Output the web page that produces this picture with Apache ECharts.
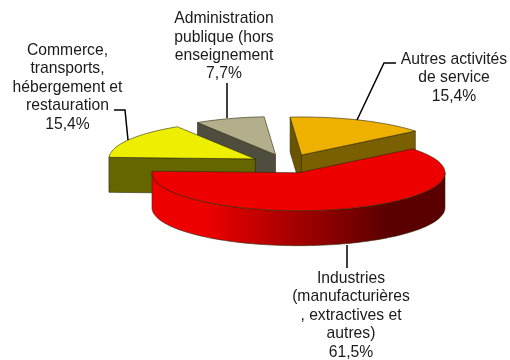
<!DOCTYPE html>
<html>
<head>
<meta charset="utf-8">
<style>
  html, body { margin: 0; background: #fff; }
  #chart { width: 510px; height: 360px; }
</style>
</head>
<body>
<div id="chart"></div>
<script src="https://cdn.jsdelivr.net/npm/echarts@6/dist/echarts.min.js"></script>
<script>
// data, counterclockwise from the start angle
const categories = [
  'Autres activités\nde service',
  'Administration\npublique (hors\nenseignement',
  'Commerce,\ntransports,\nhébergement et\nrestauration',
  'Industries\n(manufacturières\n, extractives et\nautres)'
]
const shares = [15.4, 7.7, 15.4, 61.5]

// look of the slices
const topColors = ['#eeb100', '#b3af8c', '#eeee00', '#ee0000']
const startWallColors = ['#7a6000', '#4f4d3d', '#666600', '#ee0000']
const endWallColors = ['#6b5500', '#4f4d3d', '#666600', '#ee0000']
const edgeColor = 'rgba(45, 40, 10, 0.85)'
const redWall = new echarts.graphic.LinearGradient(0, 0, 1, 0, [
  { offset: 0, color: '#ee0000' },
  { offset: 0.18, color: '#ee0000' },
  { offset: 0.81, color: '#5a0000' },
  { offset: 1, color: '#5a0000' }
])

const START_ANGLE = 39
const EXPLODE = 0.25
const DEPTH = 0.92 // wall height, in units of the y axis

// label centres and leader lines, in pixels
const labelPos = [[454, 78], [224, 46.5], [67.5, 87.5], [351, 315.5]]
const leaders = [
  [[396, 63], [384, 63], [357, 120]],
  [[227, 83], [227, 118]],
  [[114, 110], [125, 110], [128, 140]],
  [[347, 245], [347, 268]]
]

const textFont = '15.7px "Liberation Sans", Arial, sans-serif'

function rad(deg) {
  return (deg * Math.PI) / 180
}

function sliceAngles(index) {
  const total = shares.reduce((s, v) => s + v, 0)
  let from = START_ANGLE
  for (let i = 0; i < index; i++) from += (shares[i] / total) * 360
  return [from, from + (shares[index] / total) * 360]
}

function renderSlice(params, api) {
  const i = params.dataIndex
  const [a0, a1] = sliceAngles(i)
  const mid = rad((a0 + a1) / 2)
  const ox = EXPLODE * Math.cos(mid)
  const oy = EXPLODE * Math.sin(mid)

  const at = (deg, r, drop) =>
    api.coord([ox + r * Math.cos(rad(deg)), oy + r * Math.sin(rad(deg)) - (drop || 0)])

  const arc = (from, to, drop) => {
    const pts = []
    const steps = Math.max(2, Math.ceil(Math.abs(to - from) / 2))
    for (let s = 0; s <= steps; s++) pts.push(at(from + ((to - from) * s) / steps, 1, drop))
    return pts
  }

  const children = []
  const face = (points, fill) => {
    children.push({
      type: 'polygon',
      shape: { points },
      style: { fill, stroke: edgeColor, lineWidth: 0.7, lineJoin: 'round' }
    })
  }

  // radial walls, only the ones that look at the viewer
  if (-Math.cos(rad(a0)) < 0) {
    face([at(a0, 0), at(a0, 1), at(a0, 1, DEPTH), at(a0, 0, DEPTH)], startWallColors[i])
  }
  if (Math.cos(rad(a1)) < 0) {
    face([at(a1, 0), at(a1, 1), at(a1, 1, DEPTH), at(a1, 0, DEPTH)], endWallColors[i])
  }

  // rim wall, front half of the ellipse only
  const from = Math.max(a0, 180)
  const to = Math.min(a1, 360)
  if (to > from) {
    face(arc(from, to, 0).concat(arc(to, from, DEPTH)), redWall)
  }

  face([at(a0, 0)].concat(arc(a0, a1, 0)), topColors[i])

  return { type: 'group', children }
}

function renderLabel(params, api) {
  const i = params.dataIndex
  const pct = api.value(0).toFixed(1).replace('.', ',') + '%'

  return {
    type: 'group',
    children: [
      {
        type: 'polyline',
        shape: { points: leaders[i] },
        style: { fill: null, stroke: '#000', lineWidth: 1.5 }
      },
      {
        type: 'text',
        style: {
          text: categories[i] + '\n' + pct,
          x: labelPos[i][0],
          y: labelPos[i][1],
          textAlign: 'center',
          textVerticalAlign: 'middle',
          font: textFont,
          lineHeight: 18.4,
          fill: '#1a1a1a'
        }
      }
    ]
  }
}

const chart = echarts.init(document.getElementById('chart'))
chart.setOption({
  animation: false,
  backgroundColor: '#fff',
  // unit ellipse of the pie, squashed by the grid's own proportions
  grid: { left: 140.5, width: 293, top: 125.7, height: 76 },
  xAxis: { type: 'value', min: -1, max: 1, show: false },
  yAxis: { type: 'value', min: -1, max: 1, show: false },
  series: [
    {
      type: 'custom',
      renderItem: renderSlice,
      clip: false,
      silent: true,
      encode: { x: -1, y: -1 },
      data: shares.map((v) => [v])
    },
    {
      type: 'custom',
      renderItem: renderLabel,
      clip: false,
      silent: true,
      encode: { x: -1, y: -1 },
      data: shares.map((v) => [v])
    }
  ]
})
</script>
</body>
</html>
